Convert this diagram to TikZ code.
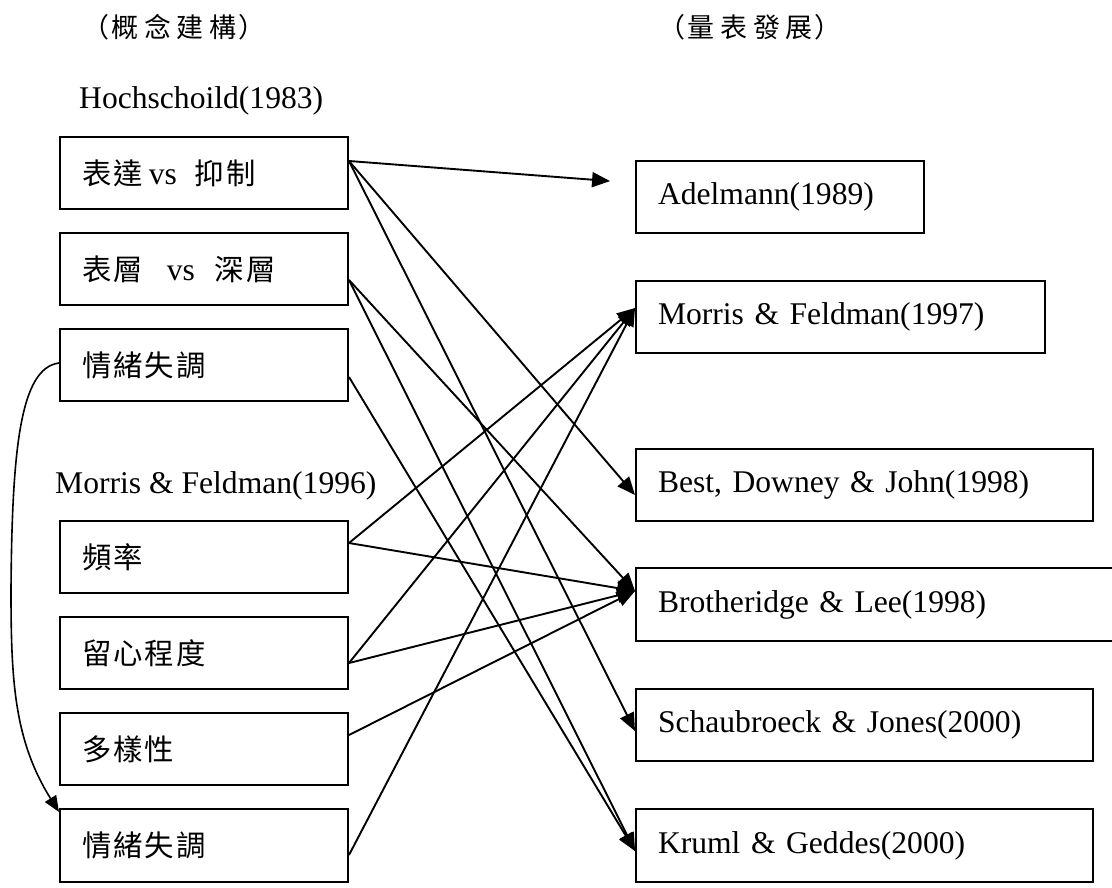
\documentclass[tikz,border=0pt]{standalone}
\usepackage{fontspec}
\setmainfont{Liberation Serif}
\newfontfamily\cjk{Noto Sans CJK TC}[Scale=0.93]
\usetikzlibrary{arrows.meta}
\begin{document}
\begin{tikzpicture}[x=1pt,y=-1pt,
  font=\fontsize{31.6pt}{36pt}\selectfont,
  box/.style={draw,line width=2pt,anchor=north west,minimum height=72pt,
    inner xsep=22pt,inner ysep=0pt,text width=#1,align=left},
  box/.default=244pt,
  head/.style={font=\fontsize{29pt}{32pt}\selectfont\cjk},
  conn/.style={line width=1.9pt,-{Triangle[length=18pt,width=15pt]}},
  loopconn/.style={line width=1.6pt,-{Triangle[length=16pt,width=13pt]}}]
\useasboundingbox (0,0) rectangle (1112,887);

% column headings
\node[head] (hconcept) at (174,27) {（\hspace{2pt}概\hspace{6pt}念\hspace{6pt}建\hspace{6pt}構\hspace{2pt}）};
\node[head] (hscale) at (750,27) {（\hspace{2pt}量\hspace{6pt}表\hspace{6pt}發\hspace{6pt}展\hspace{2pt}）};

% source labels
\node[anchor=base west,inner sep=0pt] (hoch) at (79,108) {Hochschoild(1983)};
\node[anchor=base west,inner sep=0pt] (mf96) at (55,493) {Morris \& Feldman(1996)};

% concept boxes
\node[box] (L1) at (59,136) {{\cjk 表\hspace{2pt}達}\hspace{6pt}vs\hspace{18pt}{\cjk 抑\hspace{2pt}制}};
\node[box] (L2) at (59,232) {{\cjk 表\hspace{2pt}層}\hspace{24pt}vs\hspace{20pt}{\cjk 深\hspace{2pt}層}};
\node[box] (L3) at (59,328) {\cjk 情\hspace{2pt}緒\hspace{2pt}失\hspace{2pt}調};
\node[box] (L4) at (59,520) {\cjk 頻\hspace{2pt}率};
\node[box] (L5) at (59,616) {\cjk 留\hspace{2pt}心\hspace{2pt}程\hspace{2pt}度};
\node[box] (L6) at (59,712) {\cjk 多\hspace{2pt}樣\hspace{2pt}性};
\node[box,minimum height=73pt] (L7) at (59,808) {\cjk 情\hspace{2pt}緒\hspace{2pt}失\hspace{2pt}調};

% scale boxes
\node[box] (R1) at (635,160) {Adelmann(1989)};
\node[box=365pt] (R2) at (635,280) {Morris \& Feldman(1997)};
\node[box=413pt] (R3) at (635,448) {Best, Downey \& John(1998)};
\node[box=446pt,minimum height=73pt] (R4) at (635,567) {Brotheridge \& Lee(1998)};
\node[box=413pt] (R5) at (635,688) {Schaubroeck \& Jones(2000)};
\node[box=413pt,minimum height=73pt] (R6) at (635,808) {Kruml \& Geddes(2000)};

% connectors from the concept boxes
\draw[conn,shorten >=25pt] ([yshift=-25pt]L1.north east) -- ([yshift=-23pt]R1.north west);
\draw[conn] ([yshift=-25pt]L1.north east) -- ([yshift=-47pt]R3.north west);
\draw[conn] ([yshift=-25pt]L1.north east) -- ([yshift=-43pt]R5.north west);

\draw[conn] ([yshift=-48pt]L2.north east) -- ([yshift=-24pt]R4.north west);
\draw[conn] ([yshift=-48pt]L2.north east) -- ([yshift=-43pt]R6.north west);

\draw[conn] ([yshift=-49pt]L3.north east) -- ([yshift=-43pt]R6.north west);

\draw[conn] ([yshift=-23pt]L4.north east) -- ([yshift=-28pt]R2.north west);
\draw[conn] ([yshift=-23pt]L4.north east) -- ([yshift=-24pt]R4.north west);

\draw[conn] ([yshift=-47pt]L5.north east) -- ([yshift=-28pt]R2.north west);
\draw[conn] ([yshift=-47pt]L5.north east) -- ([yshift=-24pt]R4.north west);

\draw[conn] ([yshift=-23pt]L6.north east) -- ([yshift=-24pt]R4.north west);

\draw[conn] ([yshift=-47pt]L7.north east) -- ([yshift=-28pt]R2.north west);

% curved link between the two emotional dissonance boxes
\draw[loopconn] ([yshift=-35pt]L3.north west)
  .. controls (20,368) and (12,450) .. (11,590)
  .. controls (11,680) and (14,740) .. ([yshift=-4pt]L7.north west);
\end{tikzpicture}
\end{document}
